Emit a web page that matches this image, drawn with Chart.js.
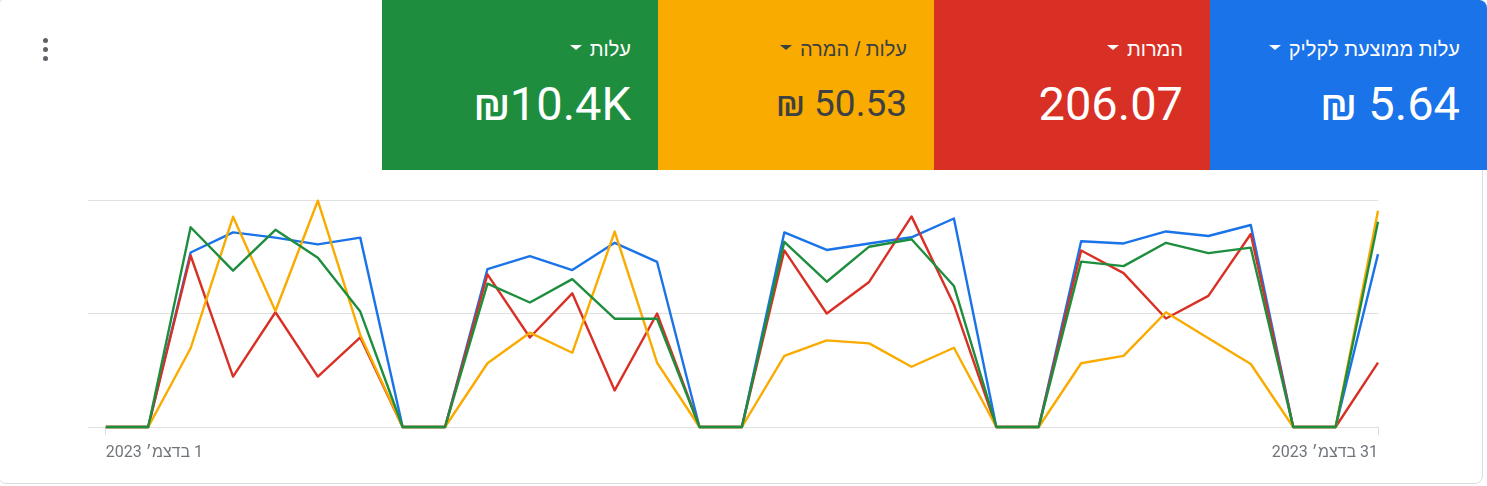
<!DOCTYPE html>
<html lang="he">
<head>
<meta charset="utf-8">
<script src="https://cdn.jsdelivr.net/npm/chart.js@4.4.1/dist/chart.umd.min.js"></script>
<style>
  html, body {
    margin: 0;
    padding: 0;
    width: 1487px;
    height: 486px;
    overflow: hidden;
    background: #fff;
    font-family: Roboto, "Liberation Sans", Arial, sans-serif;
  }
  .card {
    position: absolute;
    left: -2px;
    top: -2px;
    width: 1485px;
    height: 486px;
    box-sizing: border-box;
    border: 1px solid #dadce0;
    border-radius: 8px;
  }
  .dots {
    position: absolute;
    left: 43px;
    top: 38px;
  }
  .dots i {
    display: block;
    width: 5px;
    height: 5px;
    margin-bottom: 4px;
    border-radius: 50%;
    background: #5f6368;
  }
  .tile {
    position: absolute;
    top: 0;
    width: 276px;
    height: 170px;
    color: #fff;
  }
  .tile .label {
    position: absolute;
    right: 27px;
    top: 37px;
    direction: rtl;
    white-space: nowrap;
    font-family: "Liberation Sans", Arial, sans-serif;
    font-size: 20px;
    line-height: 24px;
  }
  .tile .arrow {
    display: inline-block;
    width: 0;
    height: 0;
    margin-right: 8px;
    vertical-align: 6px;
    border-left: 6px solid transparent;
    border-right: 6px solid transparent;
    border-top: 5px solid currentColor;
  }
  .tile .value {
    position: absolute;
    right: 27px;
    top: 80px;
    direction: ltr;
    white-space: nowrap;
    font-family: Roboto, sans-serif;
    font-size: 47px;
    line-height: 47px;
    font-weight: 400;
  }
  .tile.small .value { font-size: 37px; }
  #chartBox {
    position: absolute;
    left: 0;
    top: 170px;
    width: 1440px;
    height: 300px;
  }
</style>
</head>
<body>
<div class="card"></div>
<div class="dots"><i></i><i></i><i></i></div>
<div id="tiles"></div>
<div id="chartBox"><canvas id="chart" width="1440" height="300" dir="rtl"></canvas></div>

<script>
// December 2023, one point per day
const days = [1, 2, 3, 4, 5, 6, 7, 8, 9, 10, 11, 12, 13, 14, 15, 16,
  17, 18, 19, 20, 21, 22, 23, 24, 25, 26, 27, 28, 29, 30, 31];
const monthLabel = "בדצמ׳ 2023";
const tickDays = [1, 31];

// daily values per metric
const avgCpc = [0, 0, 5.38, 6.00, 5.84, 5.63, 5.84, 0, 0, 4.87, 5.27, 4.84, 5.68, 5.09,
  0, 0, 6.00, 5.46, 5.66, 5.85, 6.43, 0, 0, 5.73, 5.66, 6.03, 5.89, 6.23, 0, 0, 5.33];
const conversions = [0, 0, 13.6, 4.0, 9.1, 4.0, 7.1, 0, 0, 12.1, 7.1, 10.6, 2.9, 9.0,
  0, 0, 14.0, 9.0, 11.5, 16.7, 9.7, 0, 0, 14.0, 12.2, 8.6, 10.4, 15.3, 0, 0, 5.1];
const costPerConv = [0, 0, 45.1, 120.4, 66.4, 129.6, 52.7, 0, 0, 36.5, 54.0, 42.5, 111.9, 36.8,
  0, 0, 40.7, 49.6, 47.9, 34.5, 45.4, 0, 0, 36.5, 40.7, 65.7, 50.8, 36.1, 0, 0, 123.9];
const cost = [0, 0, 616, 482, 608, 522, 356, 0, 0, 442, 384, 456, 334, 334,
  0, 0, 571, 448, 556, 579, 435, 0, 0, 510, 496, 568, 536, 553, 0, 0, 633];

// scorecards, right to left
const metricNames = ["עלות ממוצעת לקליק", "המרות", "עלות / המרה", "עלות"];
const metricTotals = ["₪ 5.64", "206.07", "₪ 50.53", "₪10.4K"];

const BLUE = "#1a73e8", RED = "#d93025", YELLOW = "#f9ab00", GREEN = "#1e8e3e";
const tileColors = [BLUE, RED, YELLOW, GREEN];
const tileText = ["#fff", "#fff", "#3c4043", "#fff"];

const tiles = document.getElementById("tiles");
metricNames.forEach((name, i) => {
  const t = document.createElement("div");
  t.className = "tile" + (i === 2 ? " small" : "");
  t.style.left = (1210 - i * 276) + "px";
  if (i === 0) { t.style.width = "277px"; t.style.borderTopRightRadius = "8px"; }
  t.style.background = tileColors[i];
  t.style.color = tileText[i];
  t.innerHTML = `<div class="label"><span>${name}</span><i class="arrow"></i></div>` +
    `<div class="value">${metricTotals[i]}</div>`;
  tiles.appendChild(t);
});

function points(values) {
  return values.map((v, i) => ({ x: days[i], y: v }));
}

function line(values, color, axis) {
  return {
    data: points(values),
    yAxisID: axis,
    borderColor: color,
    borderWidth: 2.4,
    pointRadius: 0,
    tension: 0,
    borderJoinStyle: "round",
    clip: 4
  };
}

new Chart(document.getElementById("chart").getContext("2d"), {
  type: "line",
  data: {
    datasets: [
      line(cost, GREEN, "y"),
      line(costPerConv, YELLOW, "y1"),
      line(conversions, RED, "y2"),
      line(avgCpc, BLUE, "y3")
    ]
  },
  options: {
    responsive: false,
    animation: false,
    events: [],
    layout: { padding: { left: 88, right: 62, top: 30, bottom: 0 } },
    plugins: { legend: { display: false }, tooltip: { enabled: false } },
    scales: {
      x: {
        type: "linear",
        min: 0.58,
        max: 31,
        afterBuildTicks: s => { s.ticks = tickDays.map(d => ({ value: d })); },
        afterFit: s => { s.height = 43; },
        border: { display: false },
        grid: { drawOnChartArea: false, drawTicks: true, tickLength: 8, color: "#dadce0" },
        ticks: {
          align: "inner",
          padding: 8,
          maxRotation: 0,
          autoSkip: false,
          color: "#70757a",
          font: { family: "Roboto, 'Liberation Sans', Arial, sans-serif", size: 16 },
          callback: v => v + " " + monthLabel
        }
      },
      y: {
        min: 0,
        max: 700,
        afterBuildTicks: s => { s.ticks = [0, 350, 700].map(v => ({ value: v })); },
        afterFit: s => { s.width = 0; },
        border: { display: false },
        grid: { color: "#e0e0e0", lineWidth: 1, drawTicks: false },
        ticks: { display: false }
      },
      y1: { display: false, min: 0, max: 130 },
      y2: { display: false, min: 0, max: 18 },
      y3: { display: false, min: 0, max: 7 }
    }
  }
});
</script>
</body>
</html>
